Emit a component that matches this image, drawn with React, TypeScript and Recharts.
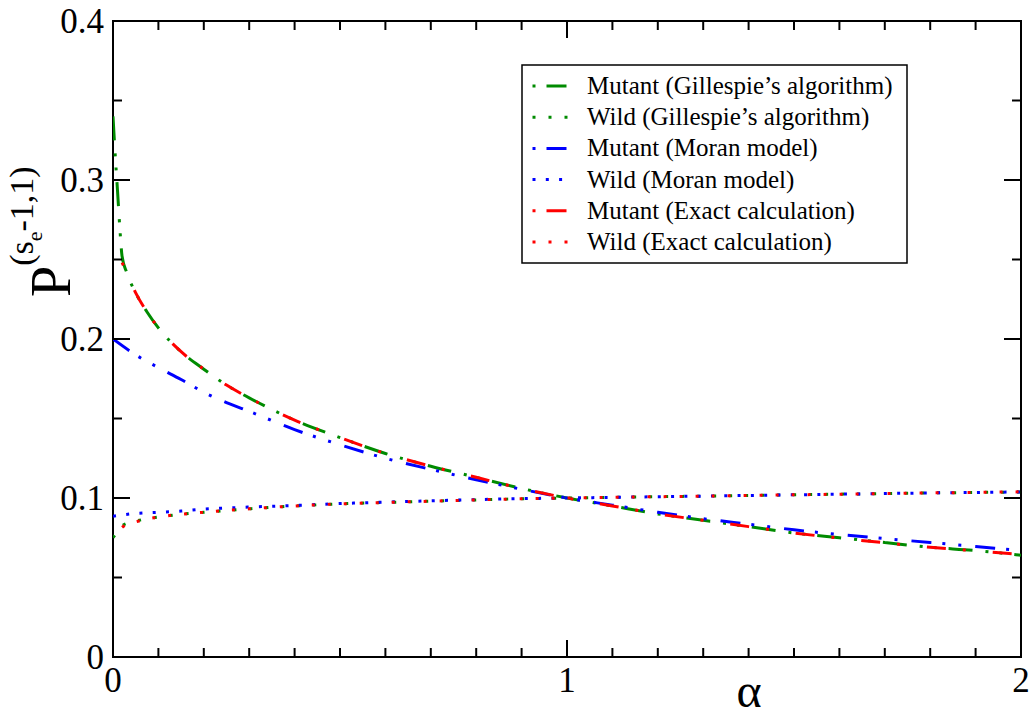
import { LineChart, Line, XAxis, YAxis, ReferenceArea, Legend } from "recharts";

// values
const alphaGillespie = [
  0, 0.005, 0.01, 0.015, 0.02, 0.03, 0.05, 0.075, 0.1, 0.15, 0.2, 0.25, 0.3,
  0.4, 0.5, 0.6, 0.7, 0.8, 0.9, 1.0, 1.1, 1.2, 1.3, 1.4, 1.5, 1.6, 1.7, 1.8, 1.9, 2.0,
];
const mutantGillespie = [
  0.34, 0.315, 0.293, 0.27, 0.252, 0.242, 0.229, 0.217, 0.207, 0.192, 0.181, 0.171, 0.163,
  0.149, 0.138, 0.128, 0.12, 0.113, 0.106, 0.1, 0.095, 0.09, 0.086, 0.082, 0.078, 0.075, 0.072, 0.069, 0.067, 0.064,
];
const wildGillespie = [
  0.075, 0.077, 0.079, 0.081, 0.0825, 0.084, 0.0855, 0.087, 0.088, 0.0898, 0.091, 0.0922, 0.0932,
  0.095, 0.0963, 0.0972, 0.098, 0.0988, 0.0995, 0.1, 0.1004, 0.1008, 0.1012, 0.1016, 0.102, 0.1024, 0.1028, 0.1032, 0.1035, 0.1038,
];

const alphaMoran = [
  0, 0.05, 0.1, 0.15, 0.2, 0.25, 0.3, 0.4, 0.5, 0.6, 0.7, 0.8, 0.9, 1.0,
  1.1, 1.2, 1.3, 1.4, 1.5, 1.6, 1.7, 1.8, 1.9, 2.0,
];
const mutantMoran = [
  0.2, 0.19, 0.182, 0.1745, 0.1665, 0.16, 0.1545, 0.143, 0.1335, 0.125, 0.118, 0.1115, 0.1055, 0.1,
  0.0955, 0.091, 0.087, 0.0835, 0.08, 0.077, 0.0745, 0.072, 0.0695, 0.067,
];
const wildMoran = [
  0.0885, 0.0903, 0.091, 0.0918, 0.093, 0.0937, 0.0943, 0.0953, 0.0965, 0.0974, 0.0982, 0.099, 0.0996, 0.1,
  0.1004, 0.1008, 0.1012, 0.1016, 0.102, 0.1024, 0.1028, 0.1032, 0.1035, 0.1038,
];

const alphaExact = [
  0.02, 0.03, 0.05, 0.075, 0.1, 0.15, 0.2, 0.25, 0.3, 0.4, 0.5, 0.6, 0.7, 0.8, 0.9, 1.0,
  1.1, 1.2, 1.3, 1.4, 1.5, 1.6, 1.7, 1.8, 1.9, 2.0,
];
const mutantExact = [
  0.248, 0.242, 0.229, 0.217, 0.207, 0.192, 0.181, 0.171, 0.163, 0.149, 0.138, 0.128, 0.12, 0.113, 0.106, 0.1,
  0.095, 0.09, 0.086, 0.082, 0.078, 0.0748, 0.0718, 0.069, 0.0668, 0.0645,
];
const wildExact = [
  0.0815, 0.0835, 0.085, 0.0868, 0.088, 0.0898, 0.091, 0.0922, 0.0932, 0.095, 0.0963, 0.0972, 0.098, 0.0988, 0.0995, 0.1,
  0.1004, 0.1008, 0.1012, 0.1016, 0.102, 0.1024, 0.1028, 0.1032, 0.1035, 0.1039,
];

const xTicks = [0, 0.1, 0.2, 0.3, 0.4, 0.5, 0.6, 0.7, 0.8, 0.9, 1, 1.1, 1.2, 1.3, 1.4, 1.5, 1.6, 1.7, 1.8, 1.9, 2];
const xTickLabels = [0, 1, 2];
const yTicks = [0, 0.05, 0.1, 0.15, 0.2, 0.25, 0.3, 0.35, 0.4];
const yTickLabels = [0, 0.1, 0.2, 0.3, 0.4];

const FONT =
  '"Liberation Serif", Tinos, "Times New Roman", Times, "Nimbus Roman", "Nimbus Roman No9 L", FreeSerif, "DejaVu Serif", "Noto Serif", serif';
const GREEN = "#008b00";
const BLUE = "#0000ff";
const RED = "#ff0000";

// plot frame, pixels
const LEFT = 113;
const RIGHT = 1021;
const TOP = 21;
const BOTTOM = 657;

const serifStyle = { fontFamily: FONT };

const pts = (xs: number[], ys: number[]) => xs.map((a, i) => ({ alpha: a, p: ys[i] }));

const series = [
  { name: "Mutant (Gillespie\u2019s algorithm)", color: GREEN, dash: "24 13 3 11 3 12", mutant: true, data: pts(alphaGillespie, mutantGillespie) },
  { name: "Wild (Gillespie\u2019s algorithm)", color: GREEN, dash: "3 13", mutant: false, data: pts(alphaGillespie, wildGillespie) },
  { name: "Mutant (Moran model)", color: BLUE, dash: "20 11 3 13 3 14", mutant: true, data: pts(alphaMoran, mutantMoran) },
  { name: "Wild (Moran model)", color: BLUE, dash: "3 10.3", mutant: false, data: pts(alphaMoran, wildMoran) },
  { name: "Mutant (Exact calculation)", color: RED, dash: "3 27 19 17", mutant: true, data: pts(alphaExact, mutantExact) },
  { name: "Wild (Exact calculation)", color: RED, dash: "3 13", mutant: false, data: pts(alphaExact, wildExact) },
];

function XTick(props: any) {
  const { x, payload } = props;
  const v = payload.value;
  const major = xTickLabels.includes(v);
  const len = major ? 17 : 9;
  return (
    <g>
      <line x1={x} x2={x} y1={BOTTOM} y2={BOTTOM - len} stroke="#000" strokeWidth={2} />
      <line x1={x} x2={x} y1={TOP} y2={TOP + len} stroke="#000" strokeWidth={2} />
      {major && (
        <text x={x} y={692} textAnchor="middle" fontSize={35} style={serifStyle} fill="#000">
          {v}
        </text>
      )}
    </g>
  );
}

function YTick(props: any) {
  const { y, payload } = props;
  const v = payload.value;
  const major = yTickLabels.includes(v);
  const len = major ? 17 : 9;
  return (
    <g>
      <line x1={LEFT} x2={LEFT + len} y1={y} y2={y} stroke="#000" strokeWidth={2} />
      <line x1={RIGHT} x2={RIGHT - len} y1={y} y2={y} stroke="#000" strokeWidth={2} />
      {major && (
        <text x={104} y={y} dy="0.35em" textAnchor="end" fontSize={35} style={serifStyle} fill="#000">
          {v}
        </text>
      )}
    </g>
  );
}

function YTitle() {
  return (
    <text x={70} y={297} transform="rotate(-90, 70, 297)" style={serifStyle} fill="#000">
      <tspan fontSize={56}>P</tspan>
      <tspan fontSize={34} dy={-37}>(s</tspan>
      <tspan fontSize={22} dy={9}>e</tspan>
      <tspan fontSize={34} dy={-9}>-1,1)</tspan>
    </text>
  );
}

function XTitle() {
  return (
    <text x={749} y={707} textAnchor="middle" fontSize={48} style={serifStyle} fill="#000">
      α
    </text>
  );
}

function LegendBox() {
  const w = 385;
  const h = 198;
  return (
    <svg width={w + 2} height={h + 2} style={{ display: "block" }}>
      <rect x={1} y={1} width={w} height={h} fill="#fff" stroke="#000" strokeWidth={1.5} />
      {series.map((s, i) => {
        const yc = 22 + i * 31.2;
        return (
          <g key={s.name}>
            <line
              x1={11.5}
              x2={49}
              y1={yc}
              y2={yc}
              stroke={s.color}
              strokeWidth={3}
              strokeDasharray={s.mutant ? "3 11 20 50" : s.dash}
            />
            <text x={66} y={yc + 8} fontSize={25} style={serifStyle} fill="#000">
              {s.name}
            </text>
          </g>
        );
      })}
    </svg>
  );
}

export default function App() {
  return (
    <div style={{ position: "absolute", left: 0, top: 0, background: "#fff", fontFamily: FONT }}>
      <LineChart width={1031} height={719} margin={{ top: TOP, right: 1031 - RIGHT, left: 0, bottom: 0 }}>
        <XAxis
          dataKey="alpha"
          type="number"
          domain={[0, 2]}
          ticks={xTicks}
          interval={0}
          height={719 - BOTTOM}
          axisLine={false}
          tickLine={false}
          tick={(p: any) => <XTick {...p} />}
          label={{ content: () => <XTitle /> }}
          allowDataOverflow
        />
        <YAxis
          type="number"
          domain={[0, 0.4]}
          ticks={yTicks}
          interval={0}
          width={LEFT}
          axisLine={false}
          tickLine={false}
          tick={(p: any) => <YTick {...p} />}
          label={{ content: () => <YTitle /> }}
          allowDataOverflow
        />
        <ReferenceArea x1={0} x2={2} y1={0} y2={0.4} fill="none" stroke="#000" strokeWidth={2} fillOpacity={0} />
        {series.map((s) => (
          <Line
            key={s.name}
            data={s.data}
            dataKey="p"
            name={s.name}
            type="monotone"
            stroke={s.color}
            strokeWidth={3}
            strokeDasharray={s.dash}
            dot={false}
            activeDot={false}
            isAnimationActive={false}
          />
        ))}
        <Legend
          layout="vertical"
          align="center"
          verticalAlign="middle"
          wrapperStyle={{ left: 521, top: 64, width: 387, height: 200 }}
          content={() => <LegendBox />}
        />
      </LineChart>
    </div>
  );
}
